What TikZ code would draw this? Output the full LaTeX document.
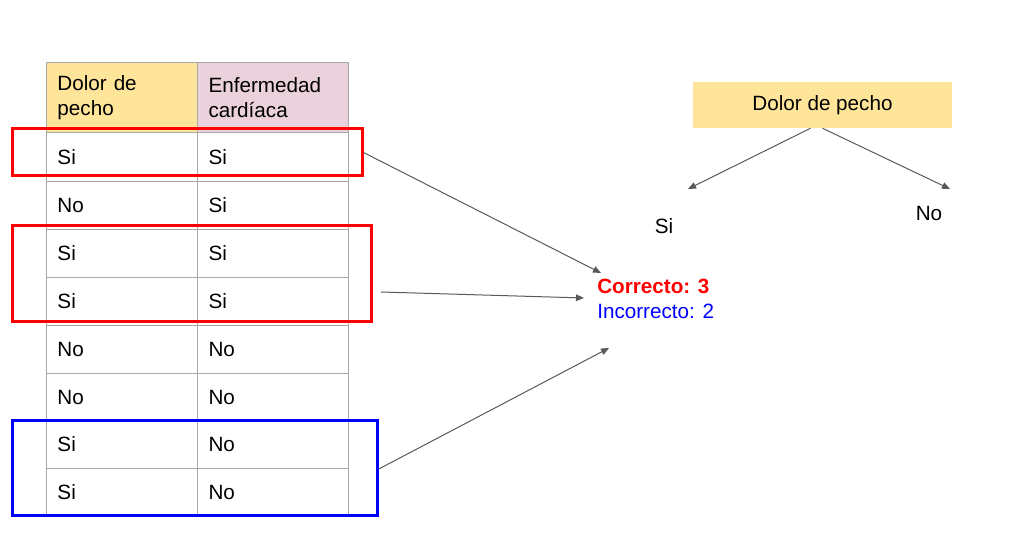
\documentclass[tikz,border=0pt]{standalone}
\usepackage{fontspec}
\setmainfont{Liberation Sans}
\usetikzlibrary{fit,arrows.meta}
\definecolor{hdryel}{HTML}{FFE599}
\definecolor{hdrpink}{HTML}{EAD1DC}
\definecolor{gridgray}{HTML}{A8A8A8}
\definecolor{arrgray}{HTML}{595959}
\definecolor{boxred}{HTML}{FF0000}
\definecolor{boxblue}{HTML}{0000FF}
\begin{document}
\begin{tikzpicture}[x=0.75pt,y=-0.75pt,
  txt/.style={font=\fontsize{15.5pt}{18.75pt}\selectfont},
  cell/.style={txt, draw=gridgray, line width=0.75pt, anchor=north west,
    minimum width=113.25pt, text width=96.75pt, inner xsep=8.25pt,
    inner ysep=0pt, align=left},
  hlbox/.style={draw=#1, line width=2.25pt, inner sep=0pt},
  conn/.style={draw=arrgray, line width=0.75pt, -{Triangle[length=6pt,width=5pt]}},
  plain/.style={txt, inner sep=0pt}
]
\useasboundingbox (0,0) rectangle (1026,555);
% header
\node[cell, fill=hdryel, minimum height=52.5pt] (h1) at (46,62) {Dolor de\\pecho};
\node[cell, fill=hdrpink, minimum height=52.5pt] (h2) at (197,62) {Enfermedad\\cardíaca};
% rows
\foreach \t/\h/\a/\b [count=\i] in {132/49/Si/Si,181/48/No/Si,229/48/Si/Si,277/48/Si/Si,325/48/No/No,373/47/No/No,420/48/Si/No,468/48/Si/No}{
  \node[cell, minimum height={\h*0.75pt}] (r\i a) at (46,\t) {\a};
  \node[cell, minimum height={\h*0.75pt}] (r\i b) at (197,\t) {\b};
}
% highlight boxes
\node[hlbox=boxred, fit={(12,129)(362,176)}] (box1) {};
\node[hlbox=boxred, fit={(12,226)(371,322)}] (box2) {};
\node[hlbox=boxblue, fit={(12,421)(377,516)}] (box3) {};
% result text
\node[plain, anchor=west, text=boxred, font=\fontsize{15.5pt}{18pt}\selectfont\bfseries] (corr) at (597,286) {Correcto: 3};
\node[plain, anchor=west, text=boxblue] (inc) at (597,311) {Incorrecto: 2};
% arrow targets
\coordinate (t1) at (601,273);
\coordinate (s2) at (381,292);
\coordinate (t2) at (584,298);
\coordinate (t3) at (609,348);
\draw[conn] (box1.east) -- (t1);
\draw[conn] (s2) -- (t2);
\draw[conn] ([yshift=-0.5pt]box3.east) -- (t3);
% tree
\node[txt, fill=hdryel, minimum width=194.25pt, minimum height=34.5pt, inner sep=0pt] (root) at (822.5,105) {Dolor de pecho};
\coordinate (tl) at (688,189);
\coordinate (tr) at (950,189);
\draw[conn] ([xshift=-9pt]root.south) -- (tl);
\draw[conn] (root.south) -- (tr);
\node[plain] (lsi) at (664,226) {Si};
\node[plain] (lno) at (929,213) {No};
\end{tikzpicture}
\end{document}
